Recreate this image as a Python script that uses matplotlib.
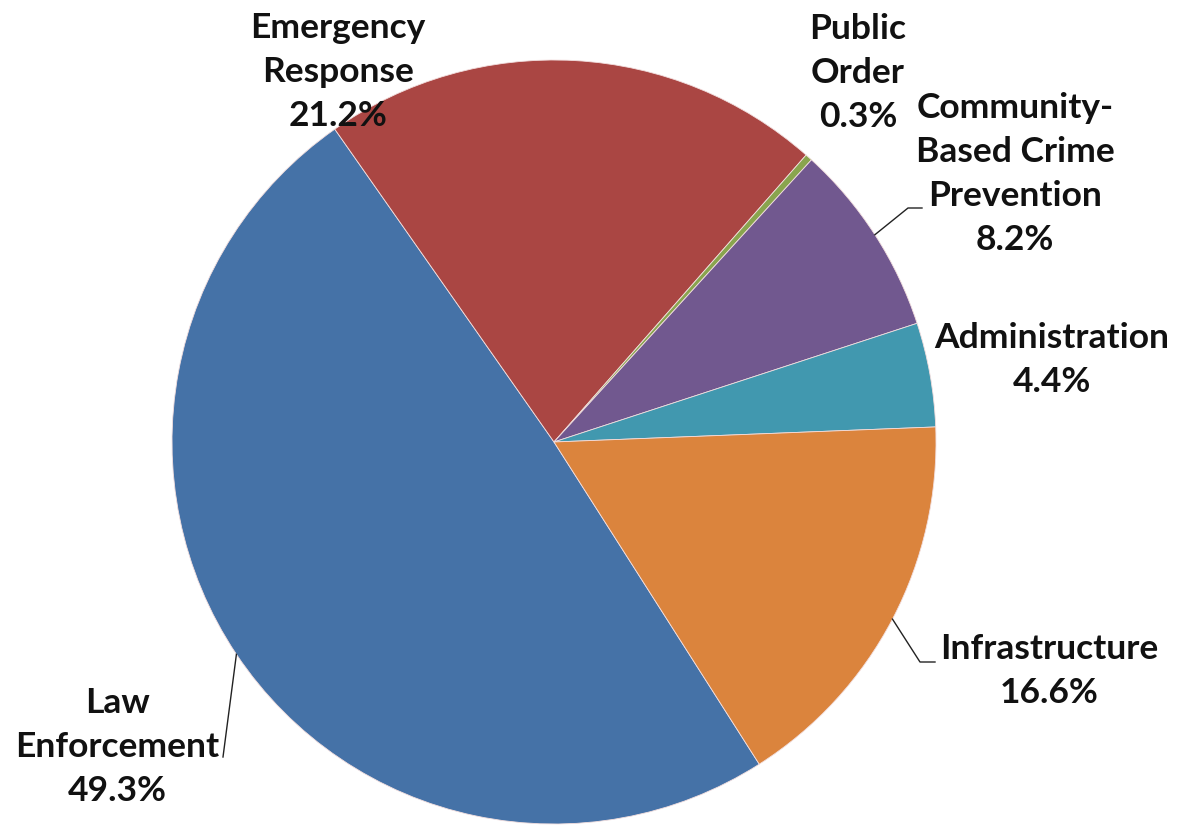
import numpy as np
import matplotlib
matplotlib.use("Agg")
import matplotlib.pyplot as plt

# data
categories = ["Law\nEnforcement", "Emergency\nResponse", "Public\nOrder",
              "Community-\nBased Crime\nPrevention", "Administration", "Infrastructure"]
shares = [49.3, 21.2, 0.3, 8.2, 4.4, 16.6]
colors = ["#4572A7", "#AA4643", "#89A54E", "#71588F", "#4198AF", "#DB843D"]

W, H = 1179, 827
CX, CY, R = 554, 442, 382          # pie centre / radius in pixels


def px(x, y):
    """pixel position -> data coords (pie radius = 1)"""
    return (x - CX) / R, (CY - y) / R


fig = plt.figure(figsize=(W / 100, H / 100), dpi=100)
ax = fig.add_axes([0, 0, 1, 1])

wedges, _ = ax.pie(shares, colors=colors, startangle=-57.5, counterclock=False,
                   radius=1, center=(0, 0),
                   wedgeprops=dict(edgecolor="#f2dede", linewidth=0.6))
# pie() resets limits, so set them afterwards
ax.set_xlim(-CX / R, (W - CX) / R)
ax.set_ylim(-(H - CY) / R, CY / R)
ax.set_aspect("auto")
ax.axis("off")

# label block centres (pixels) and optional leader elbows
label_pos = [(117, 747), (338, 72), (858, 73), (1015, 174), (1052, 360), (1049, 671)]
leaders = {0: [(223, 757)], 3: [(908, 208), (922, 208)], 5: [(920, 662), (935, 662)]}

font = dict(family=["Lato", "DejaVu Sans"], fontweight="bold", fontsize=25.5, color="#111111")
for i, (w, lab, val) in enumerate(zip(wedges, categories, shares)):
    x, y = px(*label_pos[i])
    ax.text(x, y, f"{lab}\n{val:.1f}%", ha="center", va="center",
            linespacing=1.45, **font)
    if i in leaders:
        mid = np.deg2rad((w.theta1 + w.theta2) / 2)
        xs = [np.cos(mid)] + [px(*p)[0] for p in leaders[i]]
        ys = [np.sin(mid)] + [px(*p)[1] for p in leaders[i]]
        ax.plot(xs, ys, color="#222222", lw=1.0)

fig.savefig("out.png", dpi=100)
